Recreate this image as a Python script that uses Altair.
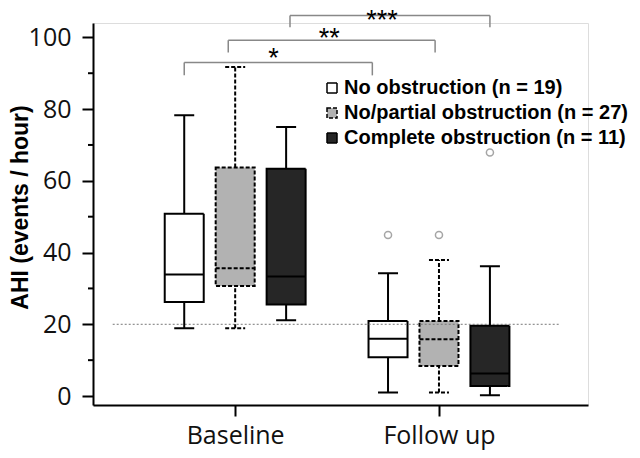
import altair as alt
import pandas as pd

# ---- data ----
groups = ["Baseline", "Follow up"]
series = ["No obstruction (n = 19)", "No/partial obstruction (n = 27)", "Complete obstruction (n = 11)"]
box_group = ["Baseline", "Baseline", "Baseline", "Follow up", "Follow up", "Follow up"]
box_series = series + series
whisker_low = [18.9, 18.9, 21.1, 1.0, 1.0, 0.2]
q1 = [26.2, 30.7, 25.5, 10.8, 8.4, 2.8]
median = [33.9, 35.6, 33.3, 16.0, 15.8, 6.3]
q3 = [50.8, 63.7, 63.4, 20.9, 20.9, 19.6]
whisker_high = [78.3, 91.7, 75.0, 34.2, 37.9, 36.2]

out_group = ["Follow up", "Follow up", "Follow up"]
out_series = series
out_value = [44.9, 44.9, 67.9]

ref_value = [20]
ref_from = [0.399]
ref_to = [2.596]

minor_ticks = [10, 30, 50, 70, 90]

br_left = [0.75, 0.966, 1.269]
br_right = [1.673, 1.981, 2.25]
br_top = [93.0, 99.2, 106.1]
br_drop = [89.4, 95.8, 102.8]
star_x = [1.1875, 1.4615, 1.721]
star_y = [91.6, 97.2, 102.3]
star_text = ["*", "**", "***"]

fills = ["#ffffff", "#b2b2b2", "#262626"]
dashes = [[1, 0], [4, 2], [1, 0]]

group_pos = {g: i + 1 for i, g in enumerate(groups)}
series_off = {s: o for s, o in zip(series, [-0.25, 0.0, 0.25])}

boxes = pd.DataFrame({
    "group": box_group, "series": box_series,
    "lo": whisker_low, "q1": q1, "med": median, "q3": q3, "hi": whisker_high,
})
boxes["x"] = [group_pos[g] + series_off[s] for g, s in zip(box_group, box_series)]

outl = pd.DataFrame({"group": out_group, "series": out_series, "v": out_value})
outl["x"] = [group_pos[g] + series_off[s] for g, s in zip(out_group, out_series)]

refdf = pd.DataFrame({"y": ref_value, "x": ref_from, "x2": ref_to})
minordf = pd.DataFrame({"y": minor_ticks})
brdf = pd.DataFrame({"l": br_left, "r": br_right, "t": br_top, "d": br_drop})
stardf = pd.DataFrame({"x": star_x, "y": star_y, "t": star_text})

xscale = alt.Scale(domain=[0.3269, 2.7067], zero=False, nice=False)
yscale = alt.Scale(domain=[-2.5, 104], zero=False, nice=False)
color = alt.Color("series:N", scale=alt.Scale(domain=series, range=fills), title=None,
                  legend=alt.Legend(orient="none", legendX=229, legendY=55,
                                    symbolType="square", symbolSize=100,
                                    symbolStrokeColor="black", symbolStrokeWidth=1.5,
                                    labelFont="Liberation Sans", labelFontWeight="bold",
                                    labelFontSize=20, labelColor="black", labelLimit=0,
                                    labelOffset=2, rowPadding=5, padding=0))
dash = alt.StrokeDash("series:N", scale=alt.Scale(domain=series, range=dashes), legend=None)

xaxis = alt.Axis(values=[1, 2], labelExpr="datum.value == 1 ? 'Baseline' : 'Follow up'",
                 title=None, grid=False, tickSize=11, tickWidth=2, tickColor="black",
                 domainColor="black", domainWidth=2, labelFont="Open Sans", labelFontSize=25,
                 labelColor="#111", labelPadding=27, labelBaseline="alphabetic")
yaxis = alt.Axis(values=[0, 20, 40, 60, 80, 100], title="AHI (events / hour)", grid=False,
                 tickSize=11, tickWidth=2, tickColor="black", domainColor="black",
                 domainWidth=2, labelFont="Open Sans", labelFontSize=25, labelColor="#111",
                 labelPadding=11, titleFont="Liberation Sans", titleFontSize=23,
                 titleFontWeight="bold", titleColor="black", titleX=-73, titleY=184,
                 titleBaseline="middle", titleAngle=270)


def X(f):
    return alt.X(f, scale=xscale, axis=xaxis)


def Y(f):
    return alt.Y(f, scale=yscale, axis=yaxis)


base = alt.Chart(boxes)

ref = alt.Chart(refdf).mark_rule(color="#777", strokeWidth=1, strokeDash=[2, 2]).encode(
    x=X("x:Q"), x2="x2:Q", y=Y("y:Q"))

minor = alt.Chart(minordf).mark_rule(color="black", strokeWidth=2).encode(
    x=alt.value(0), x2=alt.value(-5), y=Y("y:Q"))

whisk_hi = base.mark_rule(color="black", strokeWidth=2).encode(
    x=X("x:Q"), y=Y("q3:Q"), y2="hi:Q", strokeDash=dash)
whisk_lo = base.mark_rule(color="black", strokeWidth=2).encode(
    x=X("x:Q"), y=Y("lo:Q"), y2="q1:Q", strokeDash=dash)
cap_hi = base.mark_rule(color="black", strokeWidth=2, xOffset=-10, x2Offset=10).encode(
    x=X("x:Q"), x2="x:Q", y=Y("hi:Q"), strokeDash=dash)
cap_lo = base.mark_rule(color="black", strokeWidth=2, xOffset=-10, x2Offset=10).encode(
    x=X("x:Q"), x2="x:Q", y=Y("lo:Q"), strokeDash=dash)
box = base.mark_bar(size=39, stroke="black", strokeWidth=2).encode(
    x=X("x:Q"), y=Y("q1:Q"), y2="q3:Q", color=color, strokeDash=dash)
med = base.mark_rule(color="black", strokeWidth=2, xOffset=-19.5, x2Offset=19.5).encode(
    x=X("x:Q"), x2="x:Q", y=Y("med:Q"), strokeDash=dash)
outs = alt.Chart(outl).mark_point(shape="circle", filled=False, color="#808080",
                                  strokeWidth=1.5, size=50).encode(
    x=X("x:Q"), y=Y("v:Q"))

br_h = alt.Chart(brdf).mark_rule(color="#888", strokeWidth=1.5).encode(
    x=X("l:Q"), x2="r:Q", y=Y("t:Q"))
br_l = alt.Chart(brdf).mark_rule(color="#888", strokeWidth=1.5).encode(
    x=X("l:Q"), y=Y("t:Q"), y2="d:Q")
br_r = alt.Chart(brdf).mark_rule(color="#888", strokeWidth=1.5).encode(
    x=X("r:Q"), y=Y("t:Q"), y2="d:Q")
stars = alt.Chart(stardf).mark_text(font="Liberation Sans", fontSize=27, color="black",
                                    baseline="alphabetic", align="center").encode(
    x=X("x:Q"), y=Y("y:Q"), text="t:N")

chart = alt.layer(box, ref, minor, whisk_hi, whisk_lo, cap_hi, cap_lo, med, outs,
                  br_h, br_l, br_r, stars).properties(
    width=495, height=382,
    autosize=alt.AutoSizeParams(type="none"),
    padding={"left": 85, "top": 15, "right": 44, "bottom": 45},
).configure_view(strokeWidth=0).configure(background="white")

chart.save("out.html", embed_options={"renderer": "svg", "actions": False})
